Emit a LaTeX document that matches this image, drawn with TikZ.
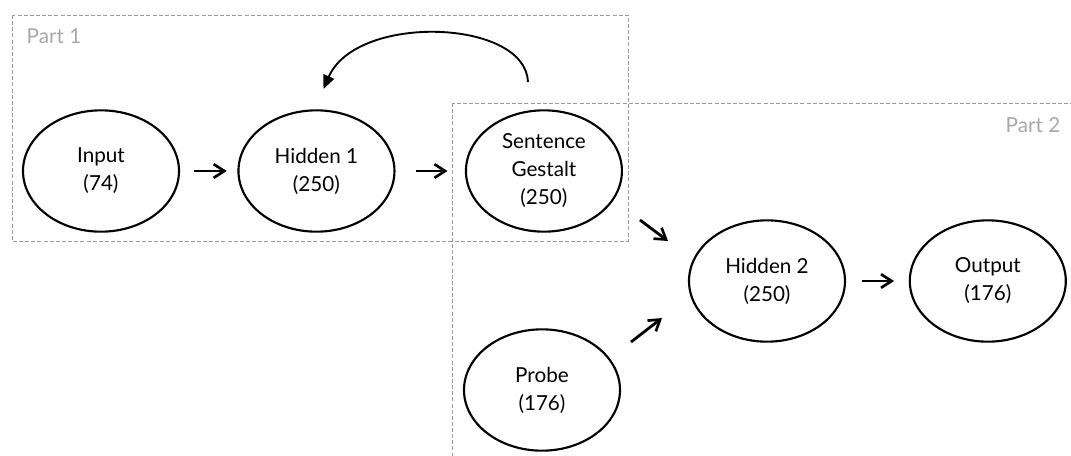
\documentclass[tikz,border=0pt]{standalone}
\usepackage{fontspec}
\setmainfont{Lato}
\usetikzlibrary{positioning,arrows.meta,shapes.geometric}
\definecolor{rand}{HTML}{9A9A9A}
\definecolor{etiq}{HTML}{A8A8A8}

\begin{document}
\begin{tikzpicture}[x=0.75pt, y=-0.75pt, font=\fontsize{15.5}{21}\selectfont,
      u/.style={draw, ellipse, line width=1.6pt, minimum width=117pt, minimum height=91pt,
                inner sep=0pt, align=center},
      pijl/.style={-{Straight Barb[length=2.8mm, width=3.6mm, line width=2pt]}, line width=2.1pt},
      deel/.style={draw=rand, dash pattern=on 3pt off 1.6pt, line width=0.7pt}]
    \useasboundingbox (0,0) rectangle (1071,455);
    \clip (0,0) rectangle (1071,455);
    % boxes for the two parts
    \coordinate (p1a) at (12,15);   \coordinate (p1b) at (628,241);
    \coordinate (p2a) at (452,103); \coordinate (p2b) at (1080,470);
    \draw[deel] (p1a) rectangle (p1b);
    \draw[deel] (p2a) rectangle (p2b);
    \node[etiq, anchor=west] (l1) at ([shift={(10,21)}]p1a) {Part 1};
    \node[etiq, anchor=east] (l2) at (1065,125) {Part 2};
    % units
    \node[u, fill=white] (in) at (101,171) {Input\\(74)};
    \node[u, fill=white, right=43pt of in] (h1) {Hidden 1\\(250)};
    \node[u, fill=white, right=52pt of h1] (sg) {Sentence\\Gestalt\\(250)};
    \node[u] (h2) at (767,281) {Hidden 2\\(250)};
    \node[u, right=47pt of h2] (out) {Output\\(176)};
    \node[u] (pr) at (542,390) {Probe\\(176)};
    % connections
    \draw[pijl, shorten <=10.5pt, shorten >=8pt] (in) -- (h1);
    \draw[pijl, shorten <=15pt, shorten >=13pt] (h1) -- (sg);
    \draw[pijl, shorten <=12pt, shorten >=11pt] (h2) -- (out);
    \draw[pijl] ([shift={(96,49)}]sg.center) -- ([shift={(-99,-40)}]h2.center);
    \draw[pijl] ([shift={(89,-48)}]pr.center) -- ([shift={(-105,37)}]h2.center);
    \draw[-{Triangle[length=3.6mm, width=3mm]}, line width=1.4pt]
      ([shift={(-16,-89)}]sg.center) .. controls ([shift={(-18,-152)}]sg.center)
      and ([shift={(40,-158)}]h1.center) .. ([shift={(7,-82)}]h1.center);
  \end{tikzpicture}
\end{document}
